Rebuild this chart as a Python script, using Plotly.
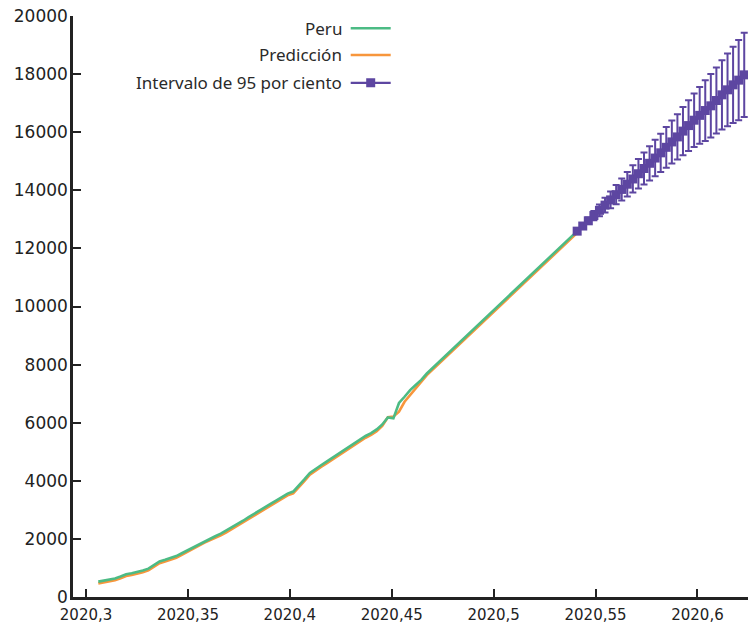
import plotly.graph_objects as go

# ---- data ----
obs_day = [112, 113, 114, 115, 116, 117, 118, 119, 120, 121,
           122, 123, 124, 125, 126, 127, 128, 129, 130, 131,
           132, 133, 134, 135, 136, 137, 138, 139, 140, 141,
           142, 143, 144, 145, 146, 147, 148, 149, 150, 151,
           152, 153, 154, 155, 156, 157, 158, 159, 160, 161,
           162, 163, 164, 165, 166, 167, 168, 169, 170, 171,
           172, 173, 174, 175, 176, 177, 178, 179, 180, 181,
           182, 183, 184, 185, 186, 187, 188, 189, 190, 191,
           192, 193, 194, 195, 196, 197, 198]

peru = [530, 566, 601, 637, 705, 782, 819, 858, 916, 976,
        1103, 1225, 1282, 1339, 1409, 1507, 1604, 1702, 1818, 1924,
        2003, 2092, 2183, 2288, 2401, 2514, 2625, 2749, 2872, 2993,
        3104, 3215, 3327, 3442, 3558, 3630, 3823, 4047, 4271, 4414,
        4536, 4662, 4788, 4917, 5045, 5174, 5301, 5430, 5543, 5640,
        5768, 5939, 6183, 6150, 6680, 6893, 7120, 7297, 7475, 7693,
        7875, 8056, 8238, 8419, 8601, 8782, 8964, 9145, 9327, 9508,
        9690, 9871, 10053, 10234, 10416, 10597, 10779, 10960, 11142, 11323,
        11505, 11686, 11868, 12049, 12231, 12412, 12594]

prediccion = [470, 506, 541, 577, 645, 722, 759, 798, 856, 916,
              1043, 1165, 1222, 1279, 1349, 1447, 1544, 1642, 1758, 1864,
              1943, 2032, 2123, 2228, 2341, 2454, 2565, 2689, 2812, 2933,
              3044, 3155, 3267, 3382, 3498, 3570, 3763, 3987, 4211, 4354,
              4476, 4602, 4728, 4857, 4985, 5114, 5241, 5370, 5483, 5580,
              5710, 5890, 6190, 6210, 6380, 6720, 6950, 7200, 7420, 7640,
              7820, 8000, 8180, 8360, 8545, 8725, 8905, 9085, 9270, 9450,
              9630, 9815, 9995, 10175, 10360, 10540, 10720, 10900, 11085, 11265,
              11445, 11630, 11810, 11990, 12175, 12355, 12540]

fc_day = [198, 199, 200, 201, 202, 203, 204, 205, 206, 207,
          208, 209, 210, 211, 212, 213, 214, 215, 216, 217,
          218, 219, 220, 221, 222, 223, 224, 225, 226, 227, 228]

fc_mid = [12594, 12770, 12950, 13130, 13310, 13490, 13670, 13850, 14030, 14210,
          14390, 14570, 14750, 14930, 15110, 15290, 15480, 15665, 15838, 16038,
          16228, 16413, 16580, 16746, 16908, 17091, 17286, 17459, 17630, 17792, 17974]

fc_err = [0, 60, 110, 160, 200, 250, 290, 330, 380, 420,
          470, 510, 550, 590, 630, 660, 700, 740, 781, 833,
          873, 920, 975, 1046, 1092, 1137, 1195, 1253, 1310, 1380, 1447]

x_ticks = [2020.30, 2020.35, 2020.40, 2020.45, 2020.50, 2020.55, 2020.60]
x_labels = ["2020,3", "2020,35", "2020,4", "2020,45", "2020,5", "2020,55", "2020,6"]
y_ticks = [0, 2000, 4000, 6000, 8000, 10000, 12000, 14000, 16000, 18000, 20000]
y_labels = ["0", "2000", "4000", "6000", "8000", "10000", "12000", "14000", "16000", "18000", "20000"]

legend_names = ["Peru", "Predicción", "Intervalo de 95 por ciento"]

DAYS_IN_YEAR = 366
obs_x = [2020 + d / DAYS_IN_YEAR for d in obs_day]
fc_x = [2020 + d / DAYS_IN_YEAR for d in fc_day]

GREEN = "#4cbb84"
ORANGE = "#f7963c"
PURPLE = "#5d46a1"

fig = go.Figure()
fig.add_trace(go.Scatter(x=obs_x, y=prediccion, mode="lines", name="",
                         line=dict(color=ORANGE, width=2.6), legend="legend2"))
fig.add_trace(go.Scatter(x=obs_x, y=peru, mode="lines", name="",
                         line=dict(color=GREEN, width=2.6), legend="legend"))
fig.add_trace(go.Scatter(x=fc_x, y=fc_mid, mode="lines+markers", name="",
                         line=dict(color=PURPLE, width=2.2),
                         marker=dict(symbol="square", size=9, color=PURPLE),
                         error_y=dict(type="data", array=fc_err, visible=True,
                                      color=PURPLE, thickness=2, width=3.5),
                         legend="legend3"))

# paper-coordinate positions for legend rows
rows_y = [0.979, 0.933, 0.885]
annotations = []
for name, yy in zip(legend_names, rows_y):
    annotations.append(dict(text=name, x=0.401, y=yy, xref="paper", yref="paper",
                            xanchor="right", yanchor="middle", showarrow=False,
                            font=dict(family="Noto Sans", size=17, color="#2a2a2a")))

leg_common = dict(xanchor="left", yanchor="middle", bgcolor="rgba(0,0,0,0)",
                  itemwidth=40, font=dict(size=10))

fig.update_layout(
    width=748, height=624,
    margin=dict(l=73, r=0, t=16, b=27),
    plot_bgcolor="white", paper_bgcolor="white",
    separators=",.",
    showlegend=True,
    legend=dict(x=0.404, y=rows_y[0], **leg_common),
    legend2=dict(x=0.404, y=rows_y[1], **leg_common),
    legend3=dict(x=0.404, y=rows_y[2], **leg_common),
    annotations=annotations,
    xaxis=dict(range=[2020.2936, 2020.6248], tickvals=x_ticks, ticktext=x_labels,
               showgrid=False, zeroline=False, showline=True, linecolor="#222222",
               linewidth=2.5, ticks="inside", ticklen=8, tickwidth=2, tickcolor="#222222",
               ticklabelstandoff=2,
               tickfont=dict(family="DejaVu Sans", size=15, color="#222222")),
    yaxis=dict(range=[0, 20000], tickvals=y_ticks, ticktext=y_labels,
               showgrid=False, zeroline=False, showline=True, linecolor="#222222",
               linewidth=2.5, ticks="inside", ticklen=8, tickwidth=2, tickcolor="#222222",
               ticklabelstandoff=-1,
               tickfont=dict(family="DejaVu Sans", size=17, color="#222222")),
)

fig.write_html("out.html")
